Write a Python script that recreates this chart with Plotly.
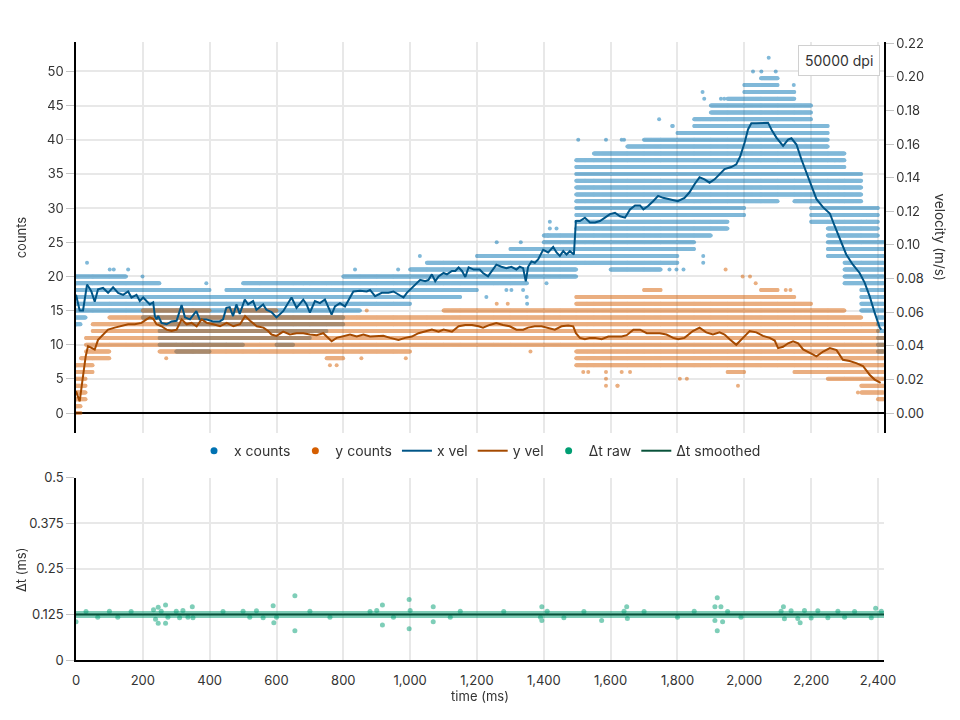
import numpy as np
import plotly.graph_objects as go

# ---------------- data ----------------
T_END = 2418  # ms, right edge of the time axis

# smoothed x velocity (m/s)
x_vel_t = [0, 5, 11, 21, 28, 33, 40, 46, 56, 66, 81, 96, 111, 126, 141, 156, 166, 181, 191, 201,
           211, 221, 231, 236, 241, 246, 256, 271, 286, 301, 316, 326, 341, 360, 370, 390, 410, 430,
           440, 450, 460, 470, 480, 490, 505, 515, 530, 540, 560, 570, 585, 600, 620, 645, 660, 680,
           690, 700, 715, 730, 745, 755, 765, 775, 790, 805, 820, 830, 850, 870, 880, 895, 915, 935,
           950, 965, 980, 990, 1005, 1015, 1030, 1045, 1055, 1065, 1075, 1085, 1100, 1110, 1125,
           1135, 1145, 1155, 1165, 1175, 1190, 1208, 1218, 1233, 1248, 1258, 1273, 1288, 1303, 1318,
           1328, 1338, 1346, 1353, 1363, 1373, 1383, 1398, 1413, 1428, 1438, 1448, 1458, 1468, 1478,
           1490, 1496, 1508, 1523, 1538, 1553, 1568, 1583, 1598, 1613, 1628, 1643, 1658, 1673, 1688,
           1698, 1712, 1727, 1742, 1757, 1777, 1801, 1821, 1836, 1851, 1866, 1881, 1896, 1911, 1926,
           1941, 1961, 1976, 1988, 2001, 2011, 2021, 2036, 2056, 2071, 2081, 2096, 2116, 2131, 2141,
           2156, 2171, 2186, 2201, 2216, 2236, 2256, 2270, 2286, 2305, 2325, 2345, 2360, 2375, 2390,
           2405, 2410]
x_vel = [0.0703, 0.0650, 0.0610, 0.0610, 0.0711, 0.0764, 0.0744, 0.0723, 0.0662, 0.0736, 0.0744,
         0.0715, 0.0748, 0.0715, 0.0703, 0.0723, 0.0687, 0.0703, 0.0666, 0.0687, 0.0666, 0.0646,
         0.0658, 0.0577, 0.0557, 0.0577, 0.0536, 0.0528, 0.0545, 0.0549, 0.0642, 0.0569, 0.0557,
         0.0606, 0.0557, 0.0557, 0.0545, 0.0545, 0.0557, 0.0626, 0.0630, 0.0577, 0.0646, 0.0589,
         0.0675, 0.0646, 0.0666, 0.0614, 0.0646, 0.0614, 0.0601, 0.0569, 0.0606, 0.0687, 0.0626,
         0.0675, 0.0646, 0.0597, 0.0666, 0.0654, 0.0675, 0.0634, 0.0585, 0.0634, 0.0654, 0.0634,
         0.0687, 0.0723, 0.0727, 0.0723, 0.0732, 0.0695, 0.0715, 0.0715, 0.0723, 0.0703, 0.0687,
         0.0715, 0.0744, 0.0764, 0.0792, 0.0784, 0.0792, 0.0825, 0.0784, 0.0813, 0.0833, 0.0825,
         0.0845, 0.0845, 0.0866, 0.0845, 0.0809, 0.0866, 0.0853, 0.0853, 0.0833, 0.0813, 0.0853,
         0.0882, 0.0870, 0.0862, 0.0870, 0.0853, 0.0870, 0.0862, 0.0784, 0.0870, 0.0902, 0.0894,
         0.0914, 0.0971, 0.0955, 0.0988, 0.0955, 0.0935, 0.0963, 0.0943, 0.0963, 0.0943, 0.1142,
         0.1142, 0.1162, 0.1134, 0.1134, 0.1142, 0.1162, 0.1183, 0.1191, 0.1170, 0.1162, 0.1211,
         0.1235, 0.1235, 0.1211, 0.1231, 0.1260, 0.1292, 0.1280, 0.1272, 0.1260, 0.1280, 0.1313,
         0.1361, 0.1402, 0.1390, 0.1370, 0.1390, 0.1418, 0.1451, 0.1463, 0.1479, 0.1528, 0.1609,
         0.1687, 0.1723, 0.1723, 0.1723, 0.1727, 0.1687, 0.1638, 0.1589, 0.1626, 0.1634, 0.1597,
         0.1508, 0.1431, 0.1349, 0.1272, 0.1223, 0.1187, 0.1114, 0.1032, 0.0943, 0.0882, 0.0833,
         0.0776, 0.0695, 0.0597, 0.0508, 0.0496]

# smoothed y velocity (m/s)
y_vel_t = [0, 5, 11, 21, 29, 36, 46, 56, 66, 81, 96, 116, 136, 156, 176, 196, 211, 221, 231, 241,
           256, 271, 286, 301, 316, 331, 346, 361, 376, 391, 411, 431, 451, 471, 491, 506, 521, 541,
           561, 575, 585, 600, 620, 640, 660, 680, 700, 720, 740, 765, 780, 800, 820, 840, 860, 880,
           900, 920, 940, 965, 985, 1005, 1025, 1045, 1065, 1085, 1100, 1125, 1145, 1165, 1185, 1205,
           1218, 1238, 1258, 1278, 1298, 1318, 1338, 1353, 1373, 1393, 1413, 1433, 1453, 1473, 1488,
           1496, 1508, 1523, 1538, 1553, 1573, 1593, 1613, 1633, 1648, 1668, 1688, 1708, 1727, 1747,
           1767, 1787, 1802, 1821, 1846, 1866, 1886, 1906, 1926, 1941, 1956, 1976, 1996, 2016, 2036,
           2056, 2076, 2091, 2101, 2116, 2131, 2146, 2161, 2176, 2196, 2216, 2236, 2256, 2276, 2295,
           2315, 2335, 2355, 2375, 2390, 2408]
y_vel = [0.0130, 0.0098, 0.0069, 0.0219, 0.0337, 0.0398, 0.0390, 0.0378, 0.0435, 0.0467, 0.0496,
         0.0508, 0.0516, 0.0528, 0.0528, 0.0536, 0.0557, 0.0569, 0.0561, 0.0528, 0.0516, 0.0496,
         0.0488, 0.0496, 0.0557, 0.0528, 0.0536, 0.0516, 0.0557, 0.0536, 0.0528, 0.0516, 0.0536,
         0.0516, 0.0528, 0.0577, 0.0549, 0.0516, 0.0508, 0.0488, 0.0467, 0.0459, 0.0484, 0.0467,
         0.0475, 0.0475, 0.0467, 0.0463, 0.0475, 0.0427, 0.0447, 0.0455, 0.0467, 0.0455, 0.0467,
         0.0455, 0.0455, 0.0459, 0.0447, 0.0435, 0.0447, 0.0455, 0.0475, 0.0484, 0.0496, 0.0484,
         0.0496, 0.0484, 0.0516, 0.0524, 0.0524, 0.0516, 0.0508, 0.0524, 0.0536, 0.0524, 0.0516,
         0.0496, 0.0496, 0.0508, 0.0516, 0.0516, 0.0508, 0.0496, 0.0516, 0.0520, 0.0516, 0.0475,
         0.0447, 0.0439, 0.0447, 0.0447, 0.0439, 0.0455, 0.0455, 0.0455, 0.0463, 0.0496, 0.0496,
         0.0475, 0.0475, 0.0475, 0.0467, 0.0447, 0.0439, 0.0447, 0.0488, 0.0508, 0.0480, 0.0467,
         0.0480, 0.0467, 0.0439, 0.0406, 0.0447, 0.0488, 0.0480, 0.0459, 0.0447, 0.0431, 0.0386,
         0.0394, 0.0415, 0.0427, 0.0415, 0.0378, 0.0358, 0.0337, 0.0366, 0.0386, 0.0374, 0.0317,
         0.0309, 0.0297, 0.0280, 0.0228, 0.0199, 0.0179]

# raw counts per sample: time bins and the band of integer counts seen in each bin
bin_edges = [0, 15, 30, 50, 100, 150, 200, 250, 300, 350, 400, 450, 500, 550, 600, 650, 700,
             750, 800, 850, 900, 950, 1000, 1050, 1100, 1150, 1200, 1250, 1300, 1350, 1400, 1450,
             1497, 1550, 1600, 1650, 1700, 1750, 1800, 1850, 1900, 1950, 2000, 2050, 2100, 2150,
             2200, 2250, 2300, 2350, 2400, 2418]
x_lo = [13, 14, 15, 15, 15, 15, 14, 10, 9, 9, 10, 10, 11, 11, 10, 11, 12, 13, 15, 16, 16, 16,
        17, 17, 17, 18, 19, 19, 19, 20, 20, 20, 22, 22, 21, 21, 21, 22, 24, 26, 27, 29, 31, 31,
        32, 31, 28, 23, 19, 15, 9]
x_hi = [20, 20, 20, 20, 20, 19, 19, 18, 18, 18, 17, 18, 19, 19, 19, 19, 19, 19, 20, 20, 20, 20,
        21, 22, 22, 22, 23, 23, 24, 24, 26, 26, 37, 38, 38, 39, 40, 40, 41, 43, 45, 46, 48, 49,
        47, 45, 42, 38, 35, 30, 25]
y_lo = [0, 2, 6, 8, 10, 10, 10, 9, 9, 9, 9, 9, 9, 9, 9, 9, 9, 8, 9, 9, 9, 9, 10, 10, 10, 10, 10,
        10, 10, 10, 10, 10, 7, 7, 7, 7, 7, 7, 7, 7, 7, 6, 7, 7, 7, 6, 6, 5, 5, 3, 2]
y_hi = [7, 8, 11, 13, 14, 14, 15, 15, 15, 15, 14, 15, 15, 15, 14, 14, 14, 14, 14, 14, 14, 14, 14,
        14, 15, 15, 15, 15, 15, 15, 15, 15, 17, 17, 17, 17, 18, 17, 17, 17, 17, 17, 17, 18, 17,
        16, 15, 15, 14, 13, 11]

# isolated samples outside the dense bands
x_out_t = [33, 101, 113, 156, 199, 390, 680, 835, 964, 1029, 1228, 1259, 1288, 1303, 1331, 1338,
           1349, 1350, 1408, 1412, 1412, 1418, 1418, 1438, 1503, 1586, 1633, 1640, 1745, 1776,
           1784, 1786, 1797, 1818, 1875, 1877, 1877, 1880, 1930, 1940, 2026, 2051, 2073, 2094,
           2148, 2246, 2271, 2350, 2366]
x_out_c = [22, 21, 21, 21, 20, 19, 19, 21, 21, 23, 17, 25, 18, 18, 25, 18, 17, 16, 19, 26, 26, 27,
           28, 27, 40, 40, 40, 40, 43, 21, 42, 42, 21, 21, 47, 23, 22, 46, 46, 46, 50, 50, 52, 50,
           48, 39, 37, 29, 28]
y_out_t = [270, 760, 780, 840, 854, 870, 987, 1259, 1292, 1360, 1518, 1533, 1586, 1586, 1586,
           1620, 1621, 1633, 1658, 1807, 1828, 1944, 1981, 1995, 2017, 2034, 2124, 2138, 2340]
y_out_c = [8, 7, 7, 14, 8, 15, 8, 16, 16, 9, 6, 6, 6, 5, 4, 4, 4, 6, 6, 5, 5, 21, 4, 20, 20, 19,
           18, 18, 3]

# sample interval: nominal value and visible deviations
dt_nominal = 0.125
dt_dev_t = [0, 30, 65, 100, 125, 165, 232, 238, 246, 246, 255, 268, 268, 275, 300, 310, 320, 335,
            348, 350, 440, 500, 520, 540, 560, 590, 592, 600, 655, 655, 700, 760, 880, 900, 917,
            917, 950, 997, 997, 1000, 1069, 1069, 1120, 1150, 1280, 1390, 1394, 1394, 1410, 1460,
            1520, 1573, 1640, 1648, 1650, 1700, 1800, 1850, 1912, 1912, 1919, 1919, 1930, 1935,
            1950, 1990, 2110, 2117, 2120, 2140, 2160, 2167, 2180, 2200, 2220, 2250, 2280, 2300,
            2330, 2380, 2393, 2410]
dt_dev_v = [0.105, 0.133, 0.117, 0.134, 0.117, 0.133, 0.138, 0.112, 0.145, 0.101, 0.134, 0.151,
            0.101, 0.117, 0.134, 0.116, 0.136, 0.117, 0.146, 0.116, 0.133, 0.134, 0.117, 0.135,
            0.116, 0.149, 0.102, 0.117, 0.176, 0.080, 0.134, 0.117, 0.133, 0.136, 0.151, 0.096,
            0.117, 0.166, 0.086, 0.136, 0.146, 0.105, 0.117, 0.134, 0.133, 0.117, 0.146, 0.108,
            0.134, 0.116, 0.133, 0.108, 0.134, 0.146, 0.114, 0.133, 0.117, 0.134, 0.146, 0.108,
            0.171, 0.080, 0.146, 0.105, 0.133, 0.117, 0.134, 0.146, 0.113, 0.135, 0.114, 0.102,
            0.136, 0.115, 0.135, 0.116, 0.134, 0.117, 0.133, 0.116, 0.142, 0.134]
dt_smooth_t = [0, 600, 1200, 1800, 2418]
dt_smooth_v = [0.125, 0.125, 0.125, 0.125, 0.125]

# ---------------- build marker tables ----------------
STEP = 1.5  # ms between drawn samples


def band_table(edges, los, his, out_t, out_c):
    ts, cs = [], []
    for a, b, lo, hi in zip(edges[:-1], edges[1:], los, his):
        tt = np.arange(a, b, STEP)
        for c in range(lo, hi + 1):
            ts.append(tt)
            cs.append(np.full(tt.size, c))
    ts.append(np.array(out_t, float))
    cs.append(np.array(out_c, float))
    return np.concatenate(ts), np.concatenate(cs)


xc_t, xc_v = band_table(bin_edges, x_lo, x_hi, x_out_t, x_out_c)
yc_t, yc_v = band_table(bin_edges, y_lo, y_hi, y_out_t, y_out_c)
dt_grid = np.arange(0, T_END, 2.0)
dt_band_v = np.full(dt_grid.size, dt_nominal)

# ---------------- colours / styles ----------------
C_X = "#0072B2"
C_Y = "#D55E00"
C_XV = "#005587"
C_YV = "#a54a00"
C_DT = "#009E73"
C_DTS = "#08523a"
GRID = "#e8e8e8"
TICK = "#c4c4c4"
TXT = "#333333"

fig = go.Figure()
fig.add_trace(go.Scatter(x=xc_t, y=xc_v, mode="markers", name="x counts",
                         marker=dict(color=C_X, size=4), opacity=0.5,
                         xaxis="x", yaxis="y", showlegend=False, hoverinfo="skip"))
fig.add_trace(go.Scatter(x=yc_t, y=yc_v, mode="markers", name="y counts",
                         marker=dict(color=C_Y, size=4), opacity=0.5,
                         xaxis="x", yaxis="y", showlegend=False, hoverinfo="skip"))
fig.add_trace(go.Scatter(x=x_vel_t, y=x_vel, mode="lines", name="x vel",
                         line=dict(color=C_XV, width=2), xaxis="x", yaxis="y2", legendrank=3))
fig.add_trace(go.Scatter(x=y_vel_t, y=y_vel, mode="lines", name="y vel",
                         line=dict(color=C_YV, width=2), xaxis="x", yaxis="y2", legendrank=4))
fig.add_trace(go.Scatter(x=dt_grid, y=dt_band_v, mode="markers", name="Δt raw",
                         marker=dict(color=C_DT, size=7), opacity=0.5,
                         xaxis="x2", yaxis="y3", showlegend=False, hoverinfo="skip"))
fig.add_trace(go.Scatter(x=dt_dev_t, y=dt_dev_v, mode="markers", name="Δt raw",
                         marker=dict(color=C_DT, size=5), opacity=0.5,
                         xaxis="x2", yaxis="y3", showlegend=False, hoverinfo="skip"))
fig.add_trace(go.Scatter(x=dt_smooth_t, y=dt_smooth_v, mode="lines", name="Δt smoothed",
                         line=dict(color=C_DTS, width=2), xaxis="x2", yaxis="y3", legendrank=6))
# legend entries for the marker series (solid colour swatches)
for nm, col, rk in [("x counts", C_X, 1), ("y counts", C_Y, 2), ("Δt raw", C_DT, 5)]:
    fig.add_trace(go.Scatter(x=[None], y=[None], mode="markers", name=nm,
                             marker=dict(color=col, size=7), xaxis="x2", yaxis="y3",
                             legendrank=rk))

fig.update_layout(
    width=960, height=720,
    margin=dict(l=76, r=76, t=42, b=60),
    paper_bgcolor="white", plot_bgcolor="white",
    font=dict(family="Inter, sans-serif", size=13, color=TXT),
    showlegend=True,
    legend=dict(orientation="h", x=0.5, xanchor="center", y=0.338, yanchor="middle",
                font=dict(size=14), bgcolor="rgba(0,0,0,0)"),
    xaxis=dict(domain=[0, 1], anchor="y", range=[0, T_END], dtick=200, showticklabels=False,
               showgrid=True, gridcolor=GRID, gridwidth=1.5, zeroline=False, showline=False),
    yaxis=dict(domain=[0.3681, 1], range=[-2.85, 54.3], dtick=5, showgrid=True, gridcolor=GRID,
               gridwidth=1.5, zeroline=True, zerolinecolor="black", zerolinewidth=1.5,
               showline=True, linecolor="black", linewidth=1.5, ticks="outside", ticklen=8,
               tickcolor=TICK),
    yaxis2=dict(overlaying="y", side="right", anchor="x", range=[-0.01158, 0.22068], dtick=0.02,
                tickformat=".2f", showgrid=False, zeroline=False, showline=True,
                linecolor="black", linewidth=1.5, ticks="outside", ticklen=8, tickcolor=TICK),
    xaxis2=dict(domain=[0, 1], anchor="y3", range=[0, T_END], dtick=200, tickformat=",",
                showgrid=True, gridcolor=GRID, gridwidth=1.5, zeroline=False, showline=True,
                linecolor="black", linewidth=1.5, ticks="outside", ticklen=8, tickcolor="white",
                title=dict(text="time (ms)", standoff=2, font=dict(size=13))),
    yaxis3=dict(domain=[0, 0.295], anchor="x2", range=[0, 0.5],
                tickvals=[0, 0.125, 0.25, 0.375, 0.5],
                ticktext=["0", "0.125", "0.25", "0.375", "0.5"],
                showgrid=True, gridcolor=GRID, gridwidth=1.5, zeroline=False, showline=True,
                linecolor="black", linewidth=1.5, ticks="outside", ticklen=8, tickcolor=TICK),
    annotations=[
        dict(text="counts", xref="paper", yref="paper", x=-0.068, y=0.684, textangle=-90,
             showarrow=False, xanchor="center", yanchor="middle", font=dict(size=13)),
        dict(text="Δt (ms)", xref="paper", yref="paper", x=-0.068, y=0.1456, textangle=-90,
             showarrow=False, xanchor="center", yanchor="middle", font=dict(size=13)),
        dict(text="velocity (m/s)", xref="paper", yref="paper", x=1.069, y=0.684, textangle=90,
             showarrow=False, xanchor="center", yanchor="middle", font=dict(size=13.5)),
        dict(text="50000 dpi", xref="paper", yref="paper", x=0.995, y=0.995,
             xanchor="right", yanchor="top", showarrow=False, bgcolor="white",
             bordercolor="#d0d0d0", borderwidth=1, borderpad=6, font=dict(size=14)),
    ],
)

fig.write_html("out.html")
